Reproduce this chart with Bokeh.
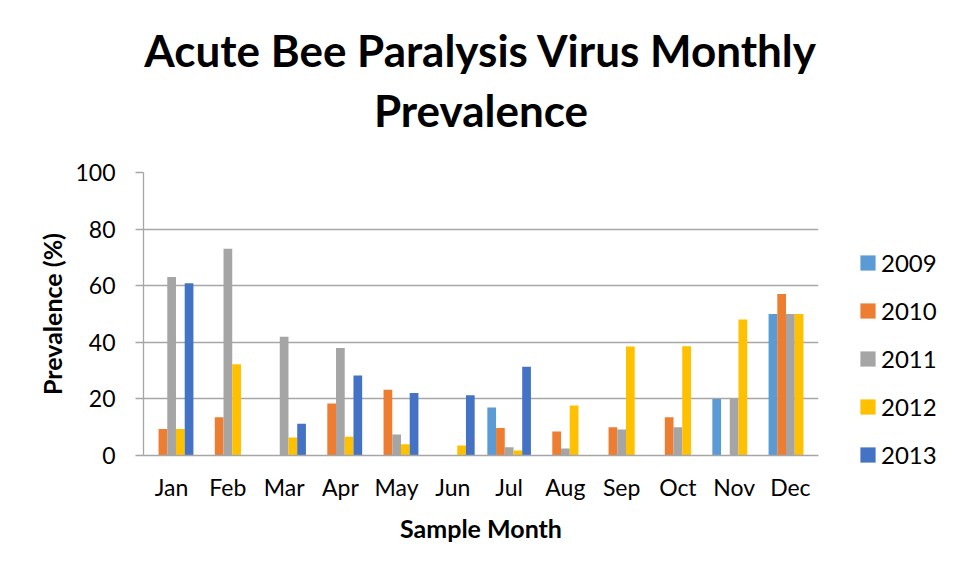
from bokeh.plotting import figure
from bokeh.models import ColumnDataSource, FactorRange, Legend, LegendItem, Range1d, Title
from bokeh.transform import dodge
from bokeh.embed import file_html
from bokeh.resources import INLINE

months = ["Jan", "Feb", "Mar", "Apr", "May", "Jun", "Jul", "Aug", "Sep", "Oct", "Nov", "Dec"]
years = ["2009", "2010", "2011", "2012", "2013"]
nan = float("nan")
y2009 = [nan, nan, nan, nan, nan, nan, 17.0, nan, nan, nan, 20.0, 50.0]
y2010 = [9.4, 13.5, nan, 18.4, 23.2, nan, 9.7, 8.5, 10.0, 13.5, nan, 57.1]
y2011 = [63.1, 73.1, 42.0, 38.0, 7.4, nan, 2.9, 2.5, 9.2, 10.0, 20.0, 50.0]
y2012 = [9.4, 32.2, 6.4, 6.6, 4.0, 3.5, 1.8, 17.7, 38.5, 38.6, 48.1, 50.0]
y2013 = [60.9, nan, 11.2, 28.3, 22.1, 21.3, 31.4, nan, nan, nan, nan, nan]
yticks = [0, 20, 40, 60, 80, 100]
colors = ["#5B9BD5", "#ED7D31", "#A5A5A5", "#FFC000", "#4472C4"]

source = ColumnDataSource(data=dict(month=months, y2009=y2009, y2010=y2010,
                                    y2011=y2011, y2012=y2012, y2013=y2013))

p = figure(x_range=FactorRange(*months, range_padding=0), y_range=Range1d(0, 100),
           frame_width=675, frame_height=283,
           min_border_left=143, min_border_right=135, min_border_top=172, min_border_bottom=114,
           output_backend="svg", toolbar_location=None,
           title="Acute Bee Paralysis Virus Monthly")

p.title.align = "center"
p.title.text_font = "Lato"
p.title.text_font_style = "bold"
p.title.text_font_size = "44px"
p.title.text_color = "#000000"
p.title.standoff = -54

sub = Title(text="Prevalence", align="center", vertical_align="top", text_font="Lato",
            text_font_style="bold", text_font_size="44px", text_color="#000000", standoff=70)
p.add_layout(sub, "above")

bw = 0.155
renderers = []
cols = ["y2009", "y2010", "y2011", "y2012", "y2013"]
for i, (c, col) in enumerate(zip(cols, colors)):
    r = p.vbar(x=dodge("month", (i - 2) * bw, range=p.x_range), top=c, width=bw,
               source=source, fill_color=col, line_color=None)
    renderers.append(r)

legend = Legend(items=[LegendItem(label=y, renderers=[r]) for y, r in zip(years, renderers)],
                location=(40, -14), orientation="vertical")
legend.border_line_color = None
legend.background_fill_alpha = 0
legend.padding = 0
legend.margin = 0
legend.glyph_width = 19
legend.glyph_height = 19
legend.label_height = 19
legend.label_standoff = 4
legend.spacing = 19
legend.label_text_font = "Lato"
legend.label_text_font_size = "24px"
legend.label_text_color = "#000000"
p.add_layout(legend, "right")

grid_col = "#A6A6A6"
p.xgrid.grid_line_color = None
p.ygrid.grid_line_color = grid_col
p.ygrid.grid_line_width = 1.3
p.ygrid.ticker = yticks
p.yaxis.ticker = yticks
p.outline_line_color = None

for ax in (p.xaxis, p.yaxis):
    ax.axis_line_color = grid_col
    ax.axis_line_width = 1.3
    ax.major_tick_line_color = grid_col
    ax.major_tick_line_width = 1.3
    ax.minor_tick_line_color = None
    ax.major_label_text_font = "Lato"
    ax.major_label_text_font_size = "23px"
    ax.major_label_text_color = "#000000"
    ax.axis_label_text_font = "Lato"
    ax.axis_label_text_font_style = "bold"
    ax.axis_label_text_font_size = "25px"
    ax.axis_label_text_color = "#000000"

p.xaxis.major_tick_out = 0
p.xaxis.major_tick_in = 0
p.xaxis.major_label_standoff = 17
p.xaxis.axis_label = "Sample Month"
p.xaxis.axis_label_standoff = 9

p.yaxis.major_tick_out = 8
p.yaxis.major_tick_in = 0
p.yaxis.major_label_standoff = 20
p.yaxis.axis_label = "Prevalence (%)"
p.yaxis.axis_label_standoff = 5

open("out.html", "w").write(file_html(p, INLINE))
